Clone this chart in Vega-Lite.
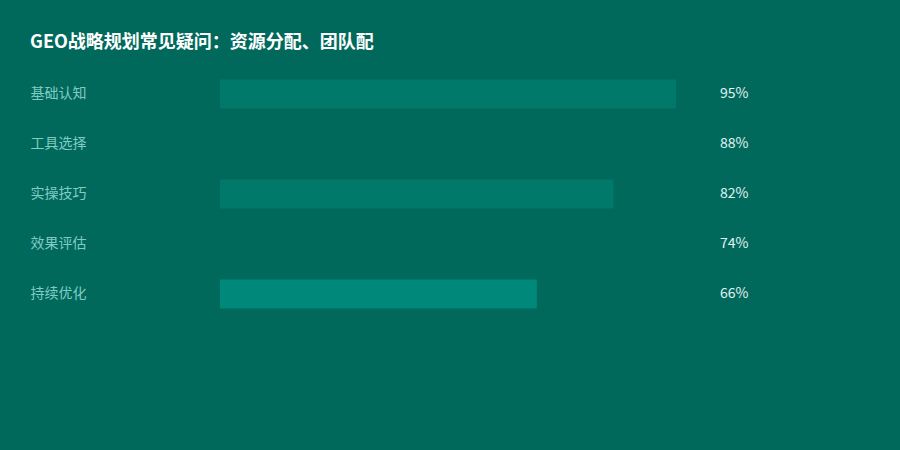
{
  "$schema": "https://vega.github.io/schema/vega-lite/v6.json",
  "autosize": "none",
  "width": 480,
  "height": 250,
  "padding": {"left": 220, "top": 69, "right": 200, "bottom": 131},
  "background": "#00695c",
  "config": {
    "view": {"stroke": null},
    "font": "Noto Sans CJK SC"
  },
  "title": {
    "text": "GEO战略规划常见疑问：资源分配、团队配",
    "anchor": "start",
    "frame": "group",
    "dx": -190,
    "offset": 17,
    "fontSize": 18,
    "fontWeight": "bold",
    "color": "#ffffff",
    "font": "Noto Sans CJK SC"
  },
  "data": {
    "values": [
      {"topic": "基础认知", "pct": 0.95, "tone": "a"},
      {"topic": "工具选择", "pct": 0.88, "tone": "b"},
      {"topic": "实操技巧", "pct": 0.82, "tone": "a"},
      {"topic": "效果评估", "pct": 0.74, "tone": "b"},
      {"topic": "持续优化", "pct": 0.66, "tone": "c"}
    ]
  },
  "encoding": {
    "y": {
      "field": "topic",
      "type": "nominal",
      "sort": null,
      "scale": {"paddingInner": 0.42, "paddingOuter": 0.21},
      "axis": {
        "title": null,
        "ticks": false,
        "domain": false,
        "grid": false,
        "labelAlign": "left",
        "labelPadding": 190,
        "labelColor": "#80cbc4",
        "labelFontSize": 14,
        "labelFont": "Noto Sans CJK SC"
      }
    }
  },
  "layer": [
    {
      "mark": {"type": "bar"},
      "encoding": {
        "x": {
          "field": "pct",
          "type": "quantitative",
          "scale": {"domain": [0, 1], "nice": false},
          "axis": null
        },
        "color": {
          "field": "tone",
          "type": "nominal",
          "scale": {"domain": ["a", "b", "c"], "range": ["#00796b", "#00695c", "#00897b"]},
          "legend": null
        }
      }
    },
    {
      "mark": {
        "type": "text",
        "align": "left",
        "baseline": "middle",
        "fontSize": 14,
        "color": "#e0f2f1",
        "font": "Noto Sans CJK SC"
      },
      "encoding": {
        "x": {"datum": 1.0417, "type": "quantitative"},
        "text": {"field": "pct", "type": "quantitative", "format": ".0%"}
      }
    }
  ]
}
